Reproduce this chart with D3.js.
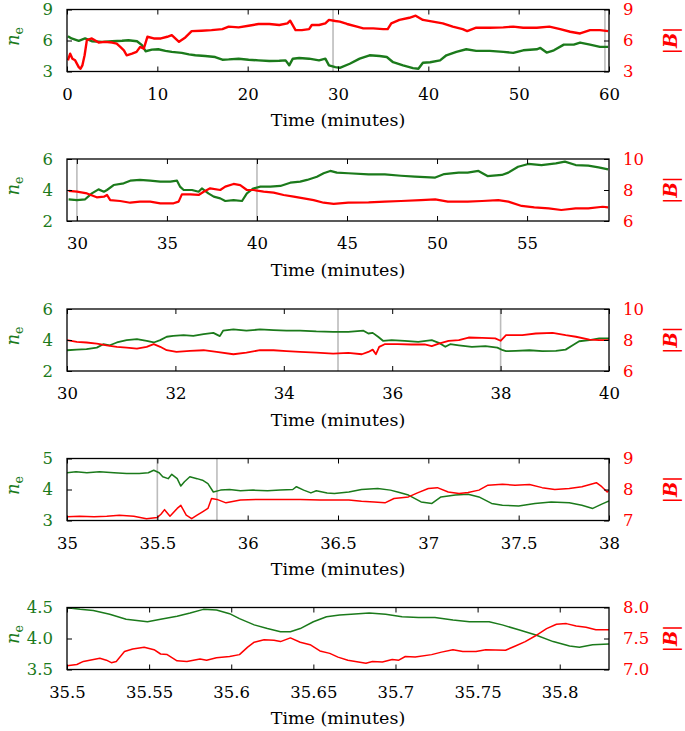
<!DOCTYPE html>
<html><head><meta charset="utf-8">
<script src="https://cdn.jsdelivr.net/npm/d3@7"></script>
<style>body{margin:0;background:#fff}svg{display:block}</style>
</head><body>
<svg id="c" width="685" height="731"></svg>
<script>
// ---------------- DATA ----------------
// Panel 1 (0–60 min)
const p1NeTime=[0.1,0.5,1.3,2.0,2.75,3.9,5.0,6.1,6.8,7.75,8.3,8.7,9.4,10.1,10.9,11.6,12.7,13.5,14.2,15.3,16.4,17.2,17.9,19.0,20.1,21.2,22.4,23.5,24.2,24.6,25.0,25.7,26.8,27.9,28.6,29.0,29.7,30.2,31.3,32.4,33.5,34.6,35.4,36.1,37.2,38.3,38.9,39.4,40.2,41.3,42.0,43.1,44.2,45.3,46.8,48.3,49.4,50.5,52.0,52.4,53.1,53.9,55.0,56.1,56.8,57.9,59.0,59.9];
const p1Ne=[6.42,6.2,5.97,6.2,5.93,5.87,5.93,5.97,6.03,5.93,5.55,4.96,5.12,5.15,5.0,4.9,4.8,4.66,4.57,4.5,4.4,4.14,4.17,4.24,4.14,4.08,4.01,4.04,4.08,3.6,4.24,4.3,4.24,4.08,4.24,3.6,3.42,3.36,3.75,4.24,4.57,4.5,4.4,3.9,3.59,3.33,3.26,3.85,3.9,4.08,4.57,4.9,5.15,5.0,5.0,4.9,4.8,5.05,5.15,5.28,4.83,5.05,5.6,5.6,5.8,5.6,5.38,5.38];
const p1BTime=[0.1,0.35,0.6,0.9,1.3,1.5,1.7,1.95,2.2,2.75,3.5,4.2,5.0,5.5,5.9,6.3,6.6,7.2,7.7,8.1,8.5,8.9,9.6,10.4,11.1,11.6,12.4,13.1,13.8,14.9,16.0,17.2,17.9,19.0,20.1,21.2,22.4,23.5,24.4,24.7,25.3,26.0,26.8,27.1,27.9,28.6,29.0,29.7,30.2,31.0,32.1,32.8,33.9,35.0,35.5,35.9,36.8,37.9,38.6,39.4,40.5,41.6,42.7,43.8,44.3,45.3,46.8,48.3,49.4,50.5,52.0,53.4,54.6,55.7,56.8,57.9,59.0,59.9];
const p1B=[4.08,4.73,4.24,4.08,3.42,3.26,3.59,4.57,6.03,6.2,5.8,5.87,5.8,5.7,5.38,5.05,4.57,4.73,4.9,5.38,5.21,6.36,6.2,6.2,6.36,6.52,5.87,6.3,6.91,6.95,7.0,7.1,7.34,7.27,7.43,7.6,7.6,7.5,7.66,7.92,7.0,7.0,7.1,7.5,7.5,7.66,7.99,7.89,7.83,7.6,7.34,7.17,7.17,7.1,7.1,7.66,7.99,8.2,8.4,7.99,7.83,7.66,7.34,7.1,6.91,7.24,7.24,7.27,7.34,7.24,7.24,7.34,7.1,6.85,6.68,7.0,7.0,6.91];
const p1Marks=[29.45,59.55];
const p1XTicks=[0,10,20,30,40,50,60];
const p1NeTicks=[3,6,9];
const p1BTicks=[3,6,9];

// Panel 2 (29.45–59.55 min)
const p2NeTime=[29.54,30.0,30.46,30.83,31.2,31.5,31.67,32.04,32.6,32.96,33.5,34.07,34.63,35.19,35.56,35.74,35.93,36.39,36.76,36.94,37.3,37.6,37.96,38.24,38.7,39.17,39.44,39.8,40.19,40.74,41.3,41.85,42.4,42.78,43.33,43.7,44.07,44.44,45.07,46.2,47.1,48.0,48.77,49.9,50.4,51.2,51.7,52.3,52.8,53.6,53.96,54.5,55.07,55.8,56.6,57.1,57.7,58.4,58.97,59.5];
const p2Ne=[3.4,3.35,3.4,3.78,4.04,3.89,4.0,4.32,4.43,4.6,4.65,4.6,4.54,4.54,4.6,4.2,4.0,4.0,3.89,4.1,3.78,3.57,3.46,3.29,3.35,3.29,3.78,4.1,4.22,4.22,4.26,4.47,4.54,4.65,4.86,5.08,5.23,5.12,5.08,5.01,5.01,4.92,4.86,4.8,5.03,5.12,5.12,5.23,4.9,4.97,5.12,5.5,5.68,5.61,5.72,5.83,5.61,5.57,5.46,5.33];
const p2BTime=[29.54,30.0,30.56,31.1,31.5,31.67,31.85,32.4,32.96,33.5,34.07,34.63,35.37,35.65,35.83,36.3,36.76,37.04,37.4,37.96,38.24,38.7,39.07,39.44,39.8,40.37,40.93,41.48,42.04,42.6,43.15,43.7,44.26,45.07,46.2,47.1,48.0,49.1,49.9,50.6,51.7,52.5,53.4,53.96,54.7,55.4,56.2,56.9,57.7,58.4,59.2,59.5];
const p2B=[7.94,7.89,7.78,7.53,7.57,7.68,7.35,7.29,7.18,7.25,7.25,7.14,7.14,7.25,7.72,7.72,7.68,7.89,8.11,8.0,8.22,8.39,8.32,8.0,8.0,7.89,7.83,7.68,7.57,7.46,7.35,7.18,7.1,7.18,7.2,7.25,7.29,7.35,7.4,7.25,7.25,7.29,7.35,7.25,6.97,6.88,6.82,6.71,6.82,6.82,6.92,6.88];
const p2Marks=[30,40];
const p2XTicks=[30,35,40,45,50,55];
const p2NeTicks=[2,4,6];
const p2BTicks=[6,8,10];

// Panel 3 (30–40 min)
const p3NeTime=[30.0,30.18,30.36,30.55,30.67,30.79,30.92,31.1,31.29,31.47,31.6,31.72,31.84,31.96,32.15,32.33,32.52,32.7,32.82,32.88,33.07,33.31,33.56,33.81,34.05,34.3,34.6,34.91,35.19,35.47,35.56,35.64,35.74,35.83,35.99,36.23,36.48,36.73,36.86,36.98,37.07,37.23,37.47,37.72,37.94,38.04,38.1,38.28,38.53,38.77,39.02,39.2,39.33,39.45,39.64,39.82,40.0];
const p3Ne=[3.34,3.38,3.41,3.51,3.73,3.66,3.84,3.99,4.05,3.95,3.84,3.99,4.21,4.27,4.31,4.27,4.38,4.46,4.25,4.6,4.68,4.6,4.68,4.64,4.6,4.6,4.55,4.53,4.53,4.6,4.42,4.46,4.21,3.95,3.99,3.95,3.88,3.99,3.82,3.56,3.73,3.66,3.56,3.6,3.51,3.34,3.28,3.3,3.34,3.28,3.3,3.38,3.66,3.92,3.99,4.1,4.1];
const p3BTime=[30.0,30.18,30.36,30.55,30.73,30.92,31.1,31.29,31.47,31.6,31.72,31.84,32.02,32.27,32.52,32.76,33.07,33.31,33.56,33.81,34.05,34.3,34.6,34.91,35.19,35.44,35.56,35.64,35.7,35.76,35.86,36.1,36.35,36.6,36.73,36.86,37.04,37.23,37.41,37.66,37.9,38.0,38.1,38.4,38.65,38.96,39.2,39.39,39.64,39.82,40.0];
const p3B=[7.99,7.88,7.84,7.77,7.66,7.56,7.51,7.45,7.56,7.73,7.56,7.34,7.23,7.3,7.34,7.23,7.08,7.19,7.34,7.34,7.28,7.23,7.19,7.12,7.17,7.08,7.23,7.38,7.08,7.56,7.73,7.73,7.71,7.71,7.6,7.77,7.95,7.99,8.16,8.14,8.1,7.95,8.31,8.31,8.42,8.46,8.31,8.21,8.03,7.99,7.99];
const p3Marks=[35,38];
const p3XTicks=[30,32,34,36,38,40];
const p3NeTicks=[2,4,6];
const p3BTicks=[6,8,10];

// Panel 4 (35–38 min)
const p4NeTime=[35.0,35.05,35.11,35.18,35.26,35.33,35.4,35.45,35.48,35.51,35.53,35.56,35.58,35.61,35.63,35.65,35.68,35.72,35.75,35.78,35.81,35.85,35.9,35.96,36.03,36.11,36.18,36.25,36.27,36.31,36.35,36.38,36.44,36.48,36.56,36.63,36.72,36.79,36.83,36.89,36.96,37.02,37.07,37.15,37.22,37.28,37.35,37.41,37.5,37.59,37.68,37.78,37.85,37.91,37.96,38.0];
const p4Ne=[4.54,4.57,4.54,4.57,4.54,4.52,4.52,4.54,4.62,4.54,4.41,4.35,4.49,4.35,4.11,4.25,4.41,4.35,4.3,4.19,3.92,3.98,4.0,3.96,3.98,3.96,3.98,4.0,4.09,3.98,3.89,3.96,3.89,3.87,3.92,4.0,4.03,3.98,3.92,3.82,3.6,3.55,3.76,3.82,3.85,3.76,3.55,3.49,3.47,3.55,3.6,3.57,3.49,3.39,3.53,3.63];
const p4BTime=[35.0,35.07,35.15,35.22,35.29,35.37,35.44,35.5,35.52,35.54,35.57,35.61,35.63,35.66,35.69,35.72,35.75,35.78,35.8,35.83,35.88,35.96,36.07,36.18,36.29,36.4,36.48,36.56,36.63,36.7,36.76,36.81,36.89,36.94,37.0,37.05,37.11,37.17,37.22,37.28,37.33,37.41,37.48,37.56,37.63,37.7,37.78,37.85,37.93,37.96,37.99,38.0];
const p4B=[7.12,7.14,7.12,7.14,7.17,7.14,7.06,7.1,7.2,7.35,7.14,7.39,7.49,7.17,7.06,7.17,7.28,7.39,7.71,7.68,7.57,7.66,7.68,7.68,7.68,7.66,7.66,7.66,7.62,7.6,7.57,7.71,7.76,7.89,8.03,8.06,7.92,7.87,7.9,7.98,8.14,8.17,8.14,8.16,8.06,8.0,8.03,8.09,8.22,8.09,7.92,7.98];
const p4Marks=[35.5,35.83];
const p4XTicks=[35,35.5,36,36.5,37,37.5,38];
const p4NeTicks=[3,4,5];
const p4BTicks=[7,8,9];

// Panel 5 (35.5–35.83 min)
const p5NeTime=[35.5,35.508,35.516,35.526,35.536,35.549,35.557,35.567,35.575,35.583,35.591,35.599,35.605,35.614,35.622,35.63,35.636,35.642,35.65,35.658,35.666,35.673,35.684,35.694,35.704,35.714,35.724,35.735,35.745,35.757,35.765,35.775,35.785,35.796,35.806,35.812,35.82,35.83];
const p5Ne=[4.495,4.47,4.45,4.39,4.31,4.27,4.31,4.36,4.41,4.47,4.46,4.4,4.32,4.22,4.16,4.11,4.11,4.16,4.27,4.35,4.38,4.39,4.41,4.39,4.35,4.34,4.34,4.3,4.27,4.27,4.22,4.14,4.06,3.95,3.88,3.86,3.9,3.91];
const p5BTime=[35.5,35.506,35.51,35.52,35.524,35.527,35.53,35.535,35.54,35.547,35.553,35.557,35.561,35.567,35.573,35.581,35.585,35.591,35.599,35.605,35.61,35.614,35.62,35.626,35.63,35.636,35.642,35.648,35.654,35.66,35.665,35.671,35.682,35.686,35.692,35.698,35.702,35.706,35.712,35.722,35.728,35.735,35.741,35.749,35.755,35.767,35.773,35.779,35.785,35.792,35.798,35.804,35.81,35.816,35.822,35.83];
const p5B=[7.06,7.08,7.13,7.18,7.15,7.11,7.13,7.29,7.33,7.36,7.32,7.25,7.24,7.14,7.13,7.17,7.15,7.19,7.21,7.24,7.36,7.44,7.48,7.47,7.45,7.51,7.44,7.4,7.3,7.26,7.2,7.15,7.1,7.13,7.12,7.16,7.15,7.21,7.2,7.24,7.28,7.32,7.29,7.29,7.32,7.31,7.38,7.45,7.54,7.66,7.73,7.74,7.7,7.68,7.64,7.64];
const p5Marks=[];
const p5XTicks=[35.5,35.55,35.6,35.65,35.7,35.75,35.8];
const p5NeTicks=[3.5,4.0,4.5];
const p5BTicks=[7.0,7.5,8.0];

const xTitle="Time (minutes)";

// ---------------- DRAW ----------------
const GREEN="#1b7a1b", RED="#ff0000", GRAY="#bcbcbc";
const FONT="'DejaVu Serif', serif";
const FS=16.5;
const L=67, R=609, PH=62;
const svg=d3.select("#c");

const panels=[
 {top:9.5,  xDom:[0,60], xT:p1XTicks, xF:d3.format("d"), nD:[3,9], nT:p1NeTicks, nF:d3.format("d"), bD:[3,9], bT:p1BTicks, bF:d3.format("d"), neT:p1NeTime, ne:p1Ne, bTm:p1BTime, b:p1B, marks:p1Marks, sw:2.4},
 {top:159,  xDom:[29.45,59.55], xT:p2XTicks, xF:d3.format("d"), nD:[2,6], nT:p2NeTicks, nF:d3.format("d"), bD:[6,10], bT:p2BTicks, bF:d3.format("d"), neT:p2NeTime, ne:p2Ne, bTm:p2BTime, b:p2B, marks:p2Marks, sw:2.2},
 {top:309,  xDom:[30,40], xT:p3XTicks, xF:d3.format("d"), nD:[2,6], nT:p3NeTicks, nF:d3.format("d"), bD:[6,10], bT:p3BTicks, bF:d3.format("d"), neT:p3NeTime, ne:p3Ne, bTm:p3BTime, b:p3B, marks:p3Marks, sw:1.8},
 {top:458.5,xDom:[35,38], xT:p4XTicks, xF:d=>String(+d.toFixed(1)), nD:[3,5], nT:p4NeTicks, nF:d3.format("d"), bD:[7,9], bT:p4BTicks, bF:d3.format("d"), neT:p4NeTime, ne:p4Ne, bTm:p4BTime, b:p4B, marks:p4Marks, sw:1.5},
 {top:607.5,xDom:[35.5,35.83], xT:p5XTicks, xF:d=>String(+d.toFixed(2)), nD:[3.5,4.5], nT:p5NeTicks, nF:d3.format(".1f"), bD:[7,8], bT:p5BTicks, bF:d3.format(".1f"), neT:p5NeTime, ne:p5Ne, bTm:p5BTime, b:p5B, marks:p5Marks, sw:1.5}
];

panels.forEach((p,i)=>{
  const top=p.top, bot=top+PH;
  const x=d3.scaleLinear().domain(p.xDom).range([L,R]);
  const yN=d3.scaleLinear().domain(p.nD).range([bot,top]);
  const yB=d3.scaleLinear().domain(p.bD).range([bot,top]);
  const g=svg.append("g");
  const cid="clip"+i;
  g.append("clipPath").attr("id",cid).append("rect").attr("x",L).attr("y",top).attr("width",R-L).attr("height",PH);
  const plot=g.append("g").attr("clip-path",`url(#${cid})`);
  plot.selectAll("line.mark").data(p.marks).enter().append("line")
    .attr("x1",d=>x(d)).attr("x2",d=>x(d)).attr("y1",top).attr("y2",bot)
    .attr("stroke",GRAY).attr("stroke-width",1.6);
  const n1=Math.min(p.neT.length,p.ne.length), n2=Math.min(p.bTm.length,p.b.length);
  const neData=d3.range(n1).map(k=>[p.neT[k],p.ne[k]]);
  const bData=d3.range(n2).map(k=>[p.bTm[k],p.b[k]]);
  const lnN=d3.line().x(d=>x(d[0])).y(d=>yN(d[1]));
  const lnB=d3.line().x(d=>x(d[0])).y(d=>yB(d[1]));
  plot.append("path").datum(neData).attr("d",lnN).attr("fill","none").attr("stroke",GREEN).attr("stroke-width",p.sw).attr("stroke-linejoin","round");
  plot.append("path").datum(bData).attr("d",lnB).attr("fill","none").attr("stroke",RED).attr("stroke-width",p.sw).attr("stroke-linejoin","round");

  // axes
  const ax=(sel)=>{sel.select(".domain").remove(); sel.selectAll(".tick line").attr("stroke","#000").attr("stroke-width",1);
    sel.selectAll(".tick text").attr("font-family",FONT).attr("font-size",FS);};
  const gb=g.append("g").attr("transform",`translate(0,${bot})`)
    .call(d3.axisBottom(x).tickValues(p.xT).tickSize(-5).tickFormat(p.xF)).call(ax);
  gb.selectAll(".tick text").attr("y",28).attr("dy","0").attr("fill","#000");
  g.append("g").attr("transform",`translate(0,${top})`)
    .call(d3.axisTop(x).tickValues(p.xT).tickSize(-5).tickFormat("")).call(ax);
  const gl=g.append("g").attr("transform",`translate(${L},0)`)
    .call(d3.axisLeft(yN).tickValues(p.nT).tickSize(-5).tickPadding(14).tickFormat(p.nF)).call(ax);
  gl.selectAll(".tick text").attr("fill",GREEN);
  const gr=g.append("g").attr("transform",`translate(${R},0)`)
    .call(d3.axisRight(yB).tickValues(p.bT).tickSize(-5).tickPadding(14).tickFormat(p.bF)).call(ax);
  gr.selectAll(".tick text").attr("fill",RED);

  // frame
  g.append("rect").attr("x",L).attr("y",top).attr("width",R-L).attr("height",PH)
    .attr("fill","none").attr("stroke","#000").attr("stroke-width",1.3);

  // x title
  g.append("text").attr("x",(L+R)/2).attr("y",bot+54.5).attr("text-anchor","middle")
    .attr("font-family",FONT).attr("font-size",17.5).attr("fill","#000").text(xTitle);

  // y titles
  const tn=g.append("text").attr("transform",`translate(19,${top+PH/2-4}) rotate(-90)`)
    .attr("text-anchor","middle").attr("font-family",FONT).attr("fill",GREEN);
  tn.append("tspan").attr("font-style","italic").attr("font-size",18).text("n");
  tn.append("tspan").attr("font-size",12.5).attr("dy",4).text("e");
  const tb=g.append("text").attr("transform",`translate(677,${top+PH/2}) rotate(-90)`)
    .attr("text-anchor","middle").attr("font-family",FONT).attr("fill",RED).attr("font-size",18);
  tb.append("tspan").text("|");
  tb.append("tspan").attr("font-weight","bold").attr("font-style","italic").text("B");
  tb.append("tspan").text("|");
});
</script>
</body></html>
